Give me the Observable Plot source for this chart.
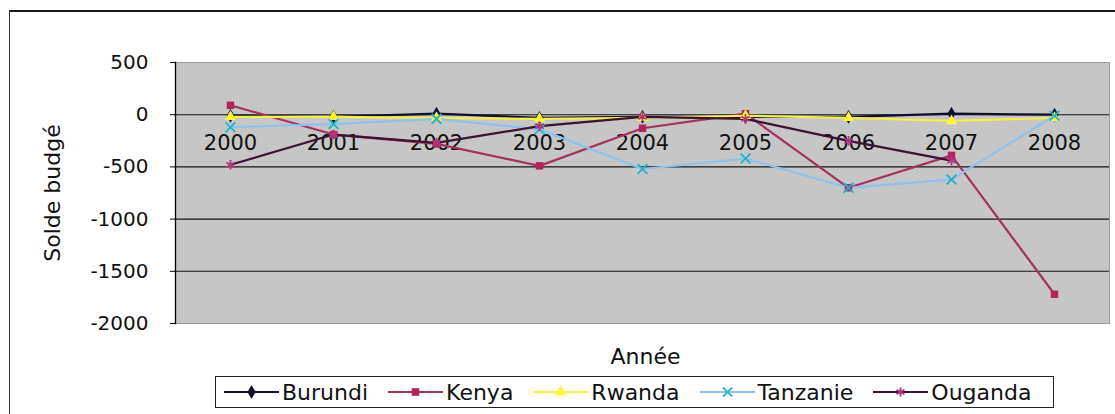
<!DOCTYPE html>
<html>
<head>
<meta charset="utf-8">
<script src="https://cdn.jsdelivr.net/npm/d3@7"></script>
<script src="https://cdn.jsdelivr.net/npm/@observablehq/plot@0.6"></script>
<style>
  body { margin: 0; background: #fff; }
  #chart { position: relative; width: 1115px; height: 414px; overflow: hidden; font-family: "DejaVu Sans", sans-serif; color: #111; }
  #frame { position: absolute; left: 9px; top: 10px; right: 0; bottom: -2px; border-top: 2px solid #1a1a1a; border-left: 1px solid #333; pointer-events: none; }
  #plot { position: absolute; left: 0; top: 0; }
  #legend { position: absolute; left: 215px; top: 376px; width: 839px; height: 32px; box-sizing: border-box;
            border: 1px solid #222; display: flex; align-items: center; padding-left: 8px; gap: 20px; background: #fff; }
  .item { display: flex; align-items: center; font-size: 22px; white-space: nowrap; }
  .item svg { margin-right: 3px; }
</style>
</head>
<body>
<div id="chart">
  <div id="frame"></div>
  <div id="plot"></div>
  <div id="legend"></div>
</div>
<script>
// Budget balance by year and country
const years = ["2000", "2001", "2002", "2003", "2004", "2005", "2006", "2007", "2008"];
const burundi  = [-10, -20, 10, -30, -20, -20, -20, 10, 0];
const kenya    = [90, -190, -280, -490, -130, 10, -700, -390, -1720];
const rwanda   = [-20, -20, -30, -40, -30, -10, -30, -60, -30];
const tanzanie = [-120, -90, -40, -140, -520, -420, -700, -620, -10];
const ouganda  = [-480, -190, -270, -110, -20, -40, -250, -440, null];

const countries = ["Burundi", "Kenya", "Rwanda", "Tanzanie", "Ouganda"];
const values = [burundi, kenya, rwanda, tanzanie, ouganda];
const lineColors   = ["#10102e", "#a3325f", "#f3ef4a", "#8ec2ec", "#3b1232"];
const markerColors = ["#10102e", "#b3245a", "#fbf53a", "#1fb5c6", "#b0357a"];
const symbols      = ["diamond", "square", "triangle", "times", "asterisk"];
const filled       = [true, true, true, false, false];

const yTicks = [500, 0, -500, -1000, -1500, -2000];
const gridLines = [0, -500, -1000, -1500];

// Long table built from the arrays above
const rows = [];
countries.forEach((pays, i) => {
  years.forEach((annee, j) => {
    rows.push({pays, annee, solde: values[i][j]});
  });
});

const seriesMarks = [];
countries.forEach((pays, i) => {
  const data = rows.filter(d => d.pays === pays && d.solde != null);
  seriesMarks.push(Plot.line(data, {x: "annee", y: "solde", stroke: lineColors[i], strokeWidth: 2.2}));
});
countries.forEach((pays, i) => {
  const data = rows.filter(d => d.pays === pays && d.solde != null);
  seriesMarks.push(Plot.dot(data, filled[i]
    ? {x: "annee", y: "solde", symbol: () => symbols[i], r: 4.2, fill: markerColors[i], stroke: "none"}
    : {x: "annee", y: "solde", symbol: () => symbols[i], r: 4.5, stroke: markerColors[i], strokeWidth: 1.8, fill: "none"}));
});

const chart = Plot.plot({
  width: 1115,
  height: 414,
  marginTop: 62,
  marginBottom: 91,
  marginLeft: 175,
  marginRight: 6,
  style: {fontFamily: "DejaVu Sans, sans-serif", background: "transparent", color: "#111"},
  x: {type: "point", domain: years, padding: 0.5, axis: null},
  y: {domain: [-2000, 500], axis: null},
  symbol: {type: "identity"},
  marks: [
    Plot.frame({fill: "#c6c6c6", stroke: "#9c9c9c"}),
    Plot.ruleY(gridLines, {stroke: "#161616", strokeWidth: 1.1}),
    Plot.frame({anchor: "left", stroke: "#000", strokeWidth: 1.3}),
    Plot.axisY({ticks: yTicks, tickFormat: d => String(d), tickSize: 5, tickPadding: 22, fontSize: 20, label: null, stroke: "#000"}),
    Plot.text(["Solde budgé"], {frameAnchor: "left", textAnchor: "middle", lineAnchor: "middle", dx: -123, rotate: -90, fontSize: 22, fill: "#111"}),
    Plot.text(years, {x: d => d, y: () => 0, dy: 29, fontSize: 21, fill: "#111", lineAnchor: "middle"}),
    ...seriesMarks,
    Plot.text(["Année"], {frameAnchor: "bottom", dy: 33, dx: 3, lineAnchor: "middle", fontSize: 22, fill: "#111"})
  ]
});
document.getElementById("plot").appendChild(chart);

// Legend: line swatch with marker, then the country name
const legend = d3.select("#legend");
const symbolTypes = {diamond: d3.symbolDiamond, square: d3.symbolSquare, triangle: d3.symbolTriangle,
                     times: d3.symbolTimes, asterisk: d3.symbolAsterisk};
countries.forEach((pays, i) => {
  const item = legend.append("div").attr("class", "item");
  const svg = item.append("svg").attr("width", 55).attr("height", 20);
  svg.append("line").attr("x1", 0).attr("x2", 55).attr("y1", 10).attr("y2", 10)
    .attr("stroke", lineColors[i]).attr("stroke-width", 2.2);
  const path = svg.append("path")
    .attr("transform", "translate(27.5,10)")
    .attr("d", d3.symbol(symbolTypes[symbols[i]], Math.PI * 4.3 * 4.3)());
  if (filled[i]) path.attr("fill", markerColors[i]);
  else path.attr("fill", "none").attr("stroke", markerColors[i]).attr("stroke-width", 1.8);
  item.append("span").text(pays);
});
</script>
</body>
</html>
